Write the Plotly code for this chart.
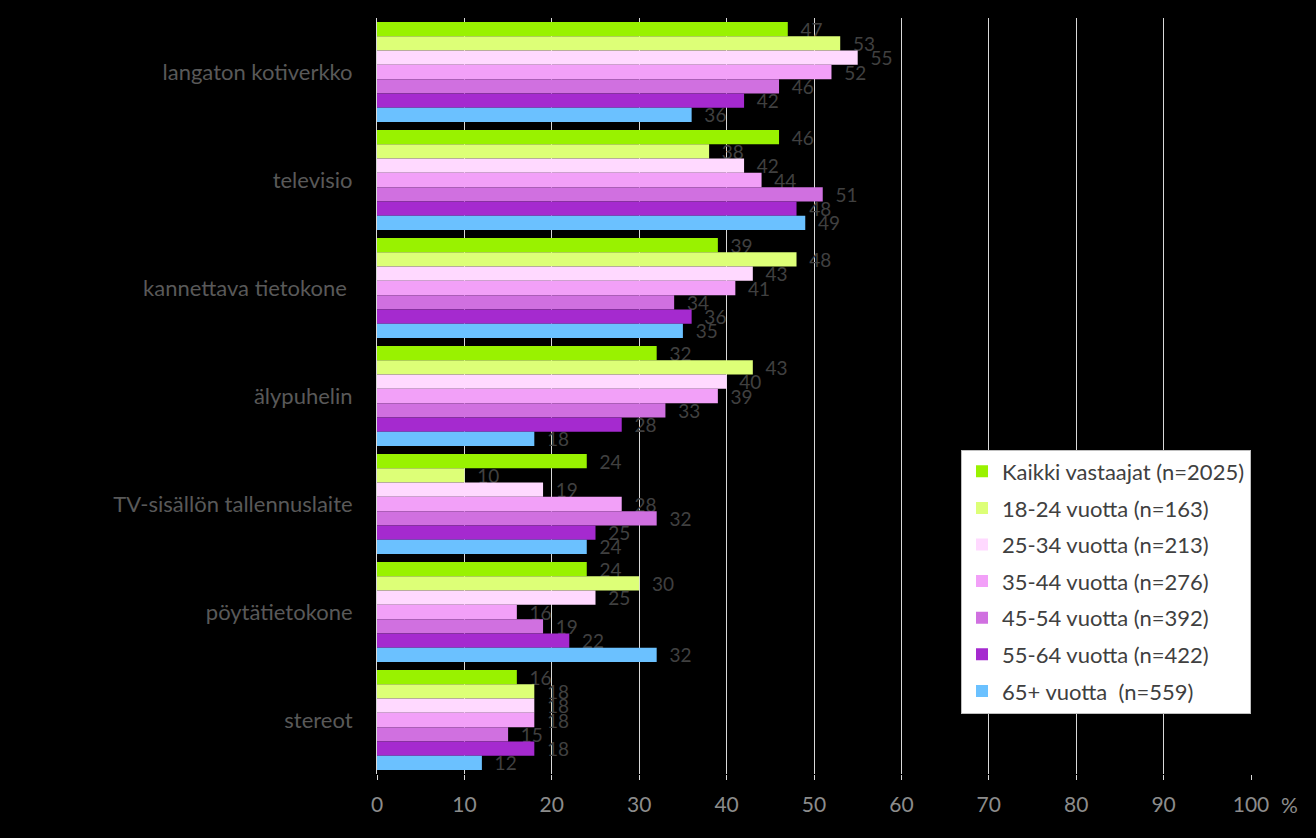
import plotly.graph_objects as go

categories = ["langaton kotiverkko", "televisio", "kannettava tietokone\u00a0",
              "älypuhelin", "TV-sisällön tallennuslaite", "pöytätietokone", "stereot"]

series_names = ["Kaikki vastaajat (n=2025)", "18-24 vuotta (n=163)", "25-34 vuotta (n=213)",
                "35-44 vuotta (n=276)", "45-54 vuotta (n=392)", "55-64 vuotta (n=422)",
                "65+ vuotta  (n=559)"]

kaikki = [47, 46, 39, 32, 24, 24, 16]
v18_24 = [53, 38, 48, 43, 10, 30, 18]
v25_34 = [55, 42, 43, 40, 19, 25, 18]
v35_44 = [52, 44, 41, 39, 28, 16, 18]
v45_54 = [46, 51, 34, 33, 32, 19, 15]
v55_64 = [42, 48, 36, 28, 25, 22, 18]
v65 = [36, 49, 35, 18, 24, 32, 12]

series_values = [kaikki, v18_24, v25_34, v35_44, v45_54, v55_64, v65]
colors = ["#99F200", "#DDFF77", "#FFD9FF", "#F2A0F8", "#D070E0", "#A52ACF", "#6BC1FF"]

tick_vals = [0, 10, 20, 30, 40, 50, 60, 70, 80, 90, 100]

fig = go.Figure()
for i, (name, vals) in enumerate(zip(series_names, series_values)):
    fig.add_trace(go.Bar(
        y=categories, x=vals, orientation="h", name=name,
        marker=dict(color=colors[i], line=dict(width=0)),
        text=["\u00a0\u00a0" + str(v) for v in vals],
        textposition="outside", cliponaxis=False, constraintext="none",
        textfont=dict(family="Lato", size=19, color="#404040"),
        legendgroup=f"g{i}",
    ))

fig.update_layout(
    width=1316, height=838,
    paper_bgcolor="black", plot_bgcolor="black",
    barmode="group", bargap=0.075, bargroupgap=0,
    margin=dict(l=377, r=65, t=18, b=64),
    showlegend=True,
    legend=dict(
        x=1.0, xanchor="right", y=0.08, yanchor="bottom",
        bgcolor="white", bordercolor="#bfbfbf", borderwidth=1,
        font=dict(family="Lato", size=22, color="#404040"),
        traceorder="grouped", tracegroupgap=5,
        itemwidth=30,
    ),
    xaxis=dict(
        range=[0, 100], tickvals=tick_vals, ticktext=[str(t) for t in tick_vals],
        showgrid=True, gridcolor="#d9d9d9", gridwidth=1,
        ticks="outside", ticklen=5, tickcolor="#d9d9d9",
        tickfont=dict(family="Lato", size=21, color="#8c8c8c"),
        ticklabelstandoff=7,
        zeroline=False, showline=False, fixedrange=True,
    ),
    yaxis=dict(
        autorange="reversed",
        showline=True, linecolor="#d9d9d9", linewidth=1,
        ticks="", showgrid=False, fixedrange=True,
        tickfont=dict(family="Lato", size=22, color="#595959"),
        ticklabelstandoff=19,
    ),
    annotations=[dict(
        text="%", x=1.0, xref="paper", xanchor="left", xshift=28,
        y=0, yref="paper", yanchor="top", yshift=-16, showarrow=False,
        font=dict(family="Lato", size=21, color="#8c8c8c"),
    )],
)

fig.write_html("out.html", config={"displayModeBar": False},
               post_script="document.body.style.margin='0';document.body.style.background='black';")
